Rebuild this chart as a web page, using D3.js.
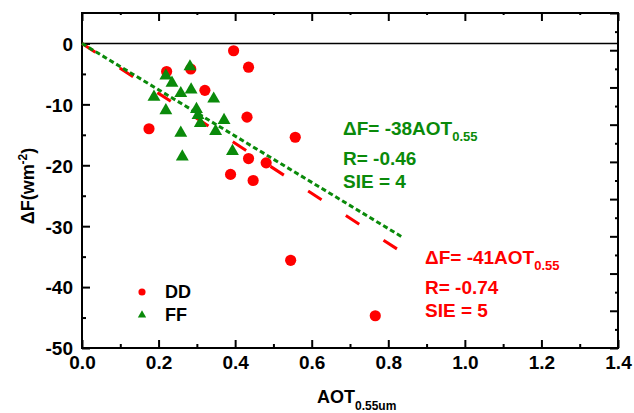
<!DOCTYPE html>
<html>
<head>
<meta charset="utf-8">
<script src="https://cdn.jsdelivr.net/npm/d3@7"></script>
<style>
  html, body { margin: 0; padding: 0; background: #fff; }
  svg text { font-family: Arial, "Liberation Sans", Helvetica, sans-serif; font-weight: bold; }
</style>
</head>
<body>
<svg id="chart" width="634" height="413"></svg>
<script>
// DD samples (red circles): AOT at 0.55 um and radiative forcing change
const ddAOT = [0.396, 0.435, 0.221, 0.284, 0.321, 0.431, 0.175, 0.557, 0.435, 0.481, 0.388, 0.447, 0.545, 0.766];
const ddDF  = [-1.2, -3.9, -4.6, -4.2, -7.7, -12.1, -14.0, -15.4, -18.9, -19.6, -21.5, -22.5, -35.6, -44.7];

// FF samples (green triangles)
const ffAOT = [0.282, 0.219, 0.235, 0.285, 0.258, 0.188, 0.344, 0.219, 0.299, 0.303, 0.309, 0.371, 0.349, 0.258, 0.393, 0.262];
const ffDF  = [-3.8, -5.3, -6.5, -7.6, -8.2, -8.8, -9.1, -11.0, -10.8, -11.8, -13.1, -12.6, -14.4, -14.7, -17.7, -18.6];

// Linear fits through the origin
const ddSlope = -41, ffSlope = -38;
const ddFitEnd = 0.835, ffFitEnd = 0.84;

const xTicks = [0, 0.2, 0.4, 0.6, 0.8, 1.0, 1.2, 1.4];
const yTicks = [0, -10, -20, -30, -40, -50];

const svg = d3.select("#chart");
const plot = { left: 82, right: 618, top: 13, bottom: 348 };

const x = d3.scaleLinear().domain([0, 1.4]).range([plot.left, plot.right]);
const y = d3.scaleLinear().domain([-50, 5]).range([plot.bottom, plot.top]);
// secondary right-hand scale (unlabelled)
const yR = d3.scaleLinear().domain([0, 9]).range([plot.bottom, plot.top]);

const RED = "#ff0000", GREEN = "#0a8a0a";

// zero reference line
svg.append("line")
  .attr("x1", plot.left).attr("x2", plot.right)
  .attr("y1", y(0)).attr("y2", y(0))
  .attr("stroke", "#000").attr("stroke-width", 1.6);

// axes with inward ticks
function styleAxis(g) {
  g.select(".domain").remove();
  g.selectAll(".tick line").attr("stroke", "#000").attr("stroke-width", 2);
}
const minorX = d3.range(0.1, 1.4, 0.2);
const minorY = d3.range(-45, 5, 10);

const gBottom = svg.append("g").attr("transform", `translate(0,${plot.bottom})`)
  .call(d3.axisBottom(x).tickValues(xTicks).tickFormat(d => d.toFixed(1)).tickSizeInner(-8).tickSizeOuter(0).tickPadding(7));
styleAxis(gBottom);
gBottom.selectAll("text").attr("font-size", 19).attr("fill", "#000").attr("dy", "0.72em");
svg.append("g").attr("transform", `translate(0,${plot.bottom})`)
  .call(d3.axisBottom(x).tickValues(minorX).tickFormat("").tickSizeInner(-4).tickSizeOuter(0)).call(styleAxis);

const gLeft = svg.append("g").attr("transform", `translate(${plot.left},0)`)
  .call(d3.axisLeft(y).tickValues(yTicks).tickFormat(d => String(d)).tickSizeInner(-8).tickSizeOuter(0).tickPadding(9));
styleAxis(gLeft);
gLeft.selectAll("text").attr("font-size", 19).attr("fill", "#000").attr("dy", "0.36em");
svg.append("g").attr("transform", `translate(${plot.left},0)`)
  .call(d3.axisLeft(y).tickValues(minorY).tickFormat("").tickSizeInner(-4).tickSizeOuter(0)).call(styleAxis);

svg.append("g").attr("transform", `translate(0,${plot.top})`)
  .call(d3.axisTop(x).tickValues(xTicks).tickFormat("").tickSizeInner(-8).tickSizeOuter(0)).call(styleAxis);
svg.append("g").attr("transform", `translate(0,${plot.top})`)
  .call(d3.axisTop(x).tickValues(minorX).tickFormat("").tickSizeInner(-2).tickSizeOuter(0)).call(styleAxis);

svg.append("g").attr("transform", `translate(${plot.right},0)`)
  .call(d3.axisRight(yR).tickValues(d3.range(0, 10, 1)).tickFormat("").tickSizeInner(-8).tickSizeOuter(0)).call(styleAxis);
svg.append("g").attr("transform", `translate(${plot.right},0)`)
  .call(d3.axisRight(yR).tickValues(d3.range(0.5, 9, 1)).tickFormat("").tickSizeInner(-3).tickSizeOuter(0)).call(styleAxis);

// frame
svg.append("rect")
  .attr("x", plot.left).attr("y", plot.top)
  .attr("width", plot.right - plot.left).attr("height", plot.bottom - plot.top)
  .attr("fill", "none").attr("stroke", "#000").attr("stroke-width", 2);

// fit lines
const line = d3.line().x(d => x(d[0])).y(d => y(d[1]));
svg.append("path")
  .attr("d", line([[0, 0], [ddFitEnd, ddSlope * ddFitEnd]]))
  .attr("stroke", RED).attr("stroke-width", 3).attr("fill", "none")
  .attr("stroke-dasharray", "16,29");
svg.append("path")
  .attr("d", line([[0, 0], [ffFitEnd, ffSlope * ffFitEnd]]))
  .attr("stroke", GREEN).attr("stroke-width", 3).attr("fill", "none")
  .attr("stroke-dasharray", "5,3");

// markers
const circle = d3.symbol().type(d3.symbolCircle).size(98);
const tri = d3.symbol().type(d3.symbolTriangle).size(72);

svg.append("g").selectAll("path")
  .data(ddAOT.map((a, i) => [a, ddDF[i]]))
  .join("path")
  .attr("d", circle)
  .attr("transform", d => `translate(${x(d[0])},${y(d[1])})`)
  .attr("fill", RED);

svg.append("g").selectAll("path")
  .data(ffAOT.map((a, i) => [a, ffDF[i]]))
  .join("path")
  .attr("d", tri)
  .attr("transform", d => `translate(${x(d[0])},${y(d[1])})`)
  .attr("fill", GREEN);

// legend
const legend = svg.append("g");
legend.append("path").attr("d", d3.symbol().type(d3.symbolCircle).size(40))
  .attr("transform", "translate(142,292)").attr("fill", RED);
legend.append("text").attr("x", 165).attr("y", 298).attr("font-size", 18).text("DD");
legend.append("path").attr("d", d3.symbol().type(d3.symbolTriangle).size(30))
  .attr("transform", "translate(142,315)").attr("fill", GREEN);
legend.append("text").attr("x", 165).attr("y", 321).attr("font-size", 18).text("FF");

// fit annotations
function annotate(x0, yBase, color, slope, r, sie) {
  const g = svg.append("g").attr("fill", color).attr("font-size", 19);
  const t = g.append("text").attr("x", x0).attr("y", yBase);
  t.append("tspan").text(`ΔF= ${slope}AOT`);
  t.append("tspan").attr("font-size", 13).attr("dy", 6).text("0.55");
  g.append("text").attr("x", x0).attr("y", yBase + 30).text(`R= ${r}`);
  g.append("text").attr("x", x0).attr("y", yBase + 53).text(`SIE = ${sie}`);
}
annotate(343, 135, GREEN, ffSlope, "-0.46", 4);
annotate(425, 264, RED, ddSlope, "-0.74", 5);

// axis titles
const xt = svg.append("text").attr("x", 317).attr("y", 403).attr("font-size", 18);
xt.append("tspan").text("AOT");
xt.append("tspan").attr("font-size", 12).attr("dy", 7).text("0.55um");

const yt = svg.append("text")
  .attr("transform", "translate(34,186) rotate(-90)")
  .attr("text-anchor", "middle").attr("font-size", 18);
yt.append("tspan").text("ΔF(wm");
yt.append("tspan").attr("font-size", 12).attr("dy", -7).text("-2");
yt.append("tspan").attr("dy", 7).text(")");
</script>
</body>
</html>
